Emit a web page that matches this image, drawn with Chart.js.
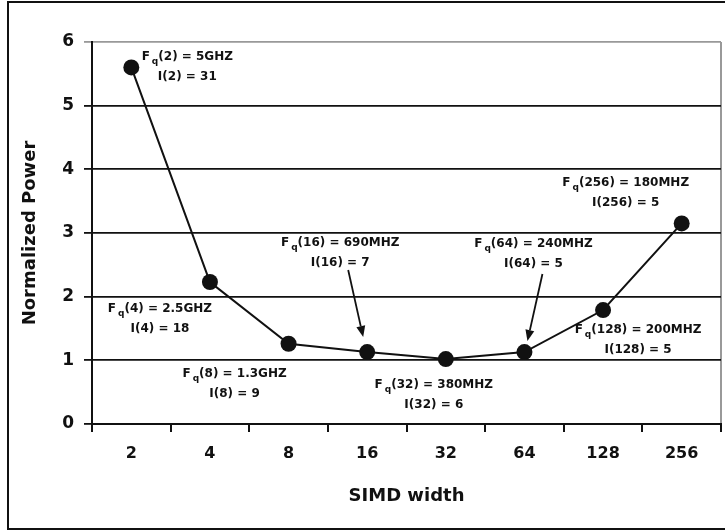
<!DOCTYPE html>
<html>
<head>
<meta charset="utf-8">
<script src="https://cdn.jsdelivr.net/npm/chart.js@4"></script>
<style>
  html, body { margin: 0; padding: 0; background: #fff; overflow: hidden; }
  #wrap { width: 725px; height: 531px; overflow: hidden; }
</style>
</head>
<body>
<div id="wrap"><canvas id="chart" width="729" height="531"></canvas></div>
<script>
const simdWidths = ['2', '4', '8', '16', '32', '64', '128', '256'];
const normPower = [5.6, 2.23, 1.26, 1.13, 1.02, 1.13, 1.79, 3.15];
const freqLabels = ['5GHZ', '2.5GHZ', '1.3GHZ', '690MHZ', '380MHZ', '240MHZ', '200MHZ', '180MHZ'];
const iValues = [31, 18, 9, 7, 6, 5, 5, 5];

// where each label sits relative to its point (px)
const labelOffsets = [[56, -11], [-50, 27], [-54, 30], [-27, -109], [-12, 26], [9, -108], [35, 20], [-56, -41]];
// arrows: [index, tailDx, tailDy, tipDx, tipDy]
const arrows = [[3, -19, -82, -4, -15], [5, 18, -78, 3, -11]];

const FONT = '"DejaVu Sans", "Liberation Sans", Arial, sans-serif';
const INK = '#111';

const frame = {
  id: 'frame',
  beforeDraw(chart) {
    const ctx = chart.ctx;
    ctx.save();
    ctx.fillStyle = '#fff';
    ctx.fillRect(0, 0, chart.width, chart.height);
    ctx.strokeStyle = INK;
    ctx.lineWidth = 2;
    ctx.beginPath();
    ctx.moveTo(740, 2);
    ctx.lineTo(8, 2);
    ctx.lineTo(8, 529);
    ctx.lineTo(740, 529);
    ctx.stroke();
    // right edge of plot area
    const a = chart.chartArea;
    ctx.strokeStyle = '#999';
    ctx.lineWidth = 2;
    ctx.beginPath();
    ctx.moveTo(a.right, a.top);
    ctx.lineTo(a.right, a.bottom);
    ctx.stroke();
    ctx.restore();
  }
};

function drawLabel(ctx, cx, cy, idx) {
  const width = simdWidths[idx];
  const line1rest = '(' + width + ') = ' + freqLabels[idx];
  const line2 = 'I(' + width + ') = ' + iValues[idx];
  ctx.font = 'bold 12px ' + FONT;
  const wF = ctx.measureText('F').width;
  const wRest = ctx.measureText(line1rest).width;
  ctx.font = 'bold 9px ' + FONT;
  const wq = ctx.measureText('q').width;
  const total = wF + 2 + wq + wRest;
  let x = cx - total / 2;
  ctx.textBaseline = 'middle';
  ctx.textAlign = 'left';
  ctx.font = 'bold 12px ' + FONT;
  ctx.fillText('F', x, cy);
  x += wF + 2;
  ctx.font = 'bold 9px ' + FONT;
  ctx.fillText('q', x, cy + 5);
  x += wq;
  ctx.font = 'bold 12px ' + FONT;
  ctx.fillText(line1rest, x, cy);
  ctx.textAlign = 'center';
  ctx.fillText(line2, cx, cy + 20);
}

const notes = {
  id: 'notes',
  afterDatasetsDraw(chart) {
    const ctx = chart.ctx;
    const meta = chart.getDatasetMeta(0);
    ctx.save();
    ctx.fillStyle = INK;
    meta.data.forEach((pt, i) => {
      const [dx, dy] = labelOffsets[i];
      drawLabel(ctx, pt.x + dx, pt.y + dy, i);
    });
    ctx.strokeStyle = INK;
    ctx.fillStyle = INK;
    ctx.lineWidth = 1.8;
    arrows.forEach(([i, tdx, tdy, hdx, hdy]) => {
      const pt = meta.data[i];
      const x0 = pt.x + tdx, y0 = pt.y + tdy, x1 = pt.x + hdx, y1 = pt.y + hdy;
      const ang = Math.atan2(y1 - y0, x1 - x0);
      const len = 11, half = 4.5;
      const bx = x1 - len * Math.cos(ang), by = y1 - len * Math.sin(ang);
      ctx.beginPath();
      ctx.moveTo(x0, y0);
      ctx.lineTo(bx, by);
      ctx.stroke();
      ctx.beginPath();
      ctx.moveTo(x1, y1);
      ctx.lineTo(bx + half * Math.sin(ang), by - half * Math.cos(ang));
      ctx.lineTo(bx - half * Math.sin(ang), by + half * Math.cos(ang));
      ctx.closePath();
      ctx.fill();
    });
    ctx.restore();
  }
};

new Chart(document.getElementById('chart'), {
  type: 'line',
  data: {
    labels: simdWidths,
    datasets: [{
      data: normPower,
      borderColor: INK,
      borderWidth: 2,
      backgroundColor: INK,
      pointRadius: 8,
      pointBorderWidth: 0,
      tension: 0
    }]
  },
  options: {
    responsive: false,
    animation: false,
    layout: { padding: { left: 0, top: 42, right: 0, bottom: 0 } },
    plugins: { legend: { display: false }, tooltip: { enabled: false } },
    scales: {
      x: {
        offset: true,
        grid: { offset: true, drawOnChartArea: false, drawTicks: true, tickLength: 8, color: INK, lineWidth: 2 },
        border: { color: INK, width: 2 },
        ticks: { color: INK, font: { family: FONT, size: 16, weight: 'bold' }, padding: 12 },
        title: { display: true, text: 'SIMD width', color: INK, font: { family: FONT, size: 18, weight: 'bold' }, padding: { top: 4, bottom: 24 } },
        afterFit(s) { s.height = 107; }
      },
      y: {
        min: 0,
        max: 6,
        ticks: { stepSize: 1, color: INK, font: { family: FONT, size: 17, weight: 'bold' }, padding: 10 },
        grid: {
          tickLength: 8,
          lineWidth: 1.8,
          color: c => (c.tick && c.tick.value === 6 ? '#999' : INK)
        },
        border: { color: INK, width: 2 },
        title: { display: true, text: 'Normalized Power', color: INK, font: { family: FONT, size: 18, weight: 'bold' }, padding: { top: 20, bottom: 4 } },
        afterFit(s) { s.width = 92; }
      }
    }
  },
  plugins: [frame, notes]
});
</script>
</body>
</html>
